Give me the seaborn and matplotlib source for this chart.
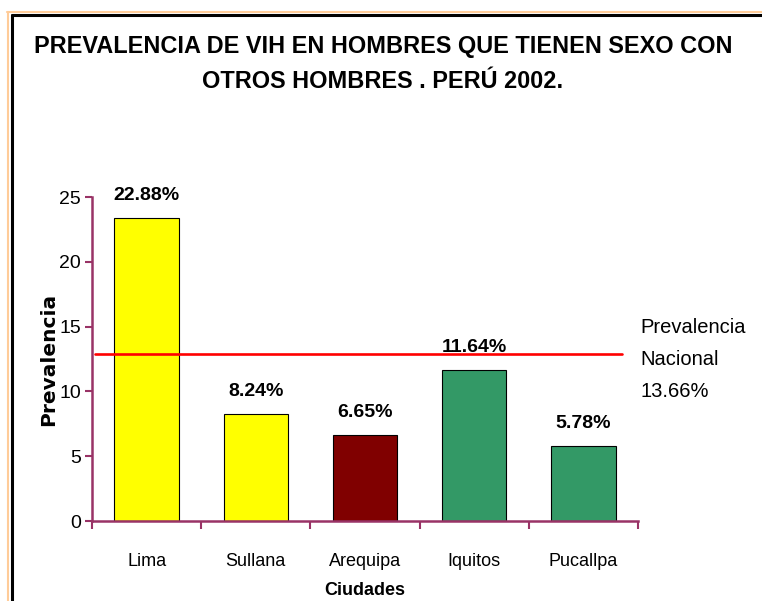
import matplotlib
matplotlib.use("Agg")
import matplotlib.pyplot as plt
import seaborn as sns
import pandas as pd
from matplotlib.lines import Line2D

ciudades = ["Lima", "Sullana", "Arequipa", "Iquitos", "Pucallpa"]
prevalencia = [23.4, 8.24, 6.65, 11.64, 5.78]
etiquetas = ["22.88%", "8.24%", "6.65%", "11.64%", "5.78%"]
colores = ["#FFFF00", "#FFFF00", "#800000", "#339966", "#339966"]
nacional = 12.85
nacional_texto = "Prevalencia\nNacional\n13.66%"
yticks = [0, 5, 10, 15, 20, 25]

sns.set_theme(style="white")
plt.rcParams["font.family"] = ["Liberation Sans", "DejaVu Sans"]
plt.rcParams["text.color"] = "black"
plt.rcParams["axes.labelcolor"] = "black"
plt.rcParams["xtick.color"] = "black"
plt.rcParams["ytick.color"] = "black"

df = pd.DataFrame({"Ciudades": ciudades, "Prevalencia": prevalencia})

W, H = 762, 601
fig = plt.figure(figsize=(W / 100, H / 100), dpi=100)
ax = fig.add_axes([92 / W, 1 - 521 / H, (638 - 92) / W, (521 - 197) / H])

sns.barplot(data=df, x="Ciudades", y="Prevalencia", hue="Ciudades",
            palette=colores, legend=False, width=0.59,
            edgecolor="black", linewidth=0.8, ax=ax, saturation=1)

ax.set_xlim(-0.5, 4.5)
ax.set_ylim(0, 25)
ax.set_yticks(yticks)
ax.set_yticklabels([str(v) for v in yticks], fontsize=14)

ax.set_xticks([i - 0.5 for i in range(len(ciudades) + 1)])
ax.set_xticklabels([])
ax.set_xticks(range(len(ciudades)), minor=True)
ax.set_xticklabels(ciudades, minor=True, fontsize=13)
ax.tick_params(axis="x", which="minor", length=0, pad=23, labelcolor="black")
ax.tick_params(axis="x", which="major", length=6, width=1.5, color="#993366", direction="out", bottom=True)
ax.tick_params(axis="y", length=5, width=1.5, color="#993366", direction="out", left=True, pad=3, labelcolor="black")

for s in ["top", "right"]:
    ax.spines[s].set_visible(False)
for s in ["left", "bottom"]:
    ax.spines[s].set_color("#993366")
    ax.spines[s].set_linewidth(1.8)

ax.set_xlabel("Ciudades", fontsize=13, fontweight="bold", labelpad=8.5)
ax.set_ylabel("Prevalencia", fontsize=14.5, fontweight="bold", family="DejaVu Sans", labelpad=0.5)

for i, (v, t) in enumerate(zip(prevalencia, etiquetas)):
    ax.annotate(t, (i, v), xytext=(0, 10), textcoords="offset points",
                ha="center", va="bottom", fontsize=14, fontweight="bold")

ax.axhline(nacional, xmin=0.005, xmax=0.97, color="#FF0000", lw=1.9, zorder=5)
ax.set_facecolor("none")

fig.text(640 / W, 1 - 318 / H, nacional_texto, ha="left", va="top",
         fontsize=14.5, linespacing=1.86)

fig.text(383 / W, 1 - 47 / H, "PREVALENCIA DE VIH EN HOMBRES QUE TIENEN SEXO CON",
         ha="center", va="center", fontsize=16.9, fontweight="bold")
fig.text(383 / W, 1 - 82 / H, "OTROS HOMBRES . PERÚ 2002.",
         ha="center", va="center", fontsize=16.9, fontweight="bold")

# frame
fig.add_artist(Line2D([7 / W, 1], [1 - 12 / H] * 2, color="#FFCC99", lw=1.5, transform=fig.transFigure))
fig.add_artist(Line2D([7.5 / W] * 2, [0, 1 - 12 / H], color="#FFCC99", lw=1.5, transform=fig.transFigure))
fig.add_artist(Line2D([12 / W, 1], [1 - 15 / H] * 2, color="black", lw=2.2, transform=fig.transFigure))
fig.add_artist(Line2D([12 / W] * 2, [0, 1 - 15 / H], color="black", lw=2.2, transform=fig.transFigure))

fig.savefig("out.png", dpi=100)
